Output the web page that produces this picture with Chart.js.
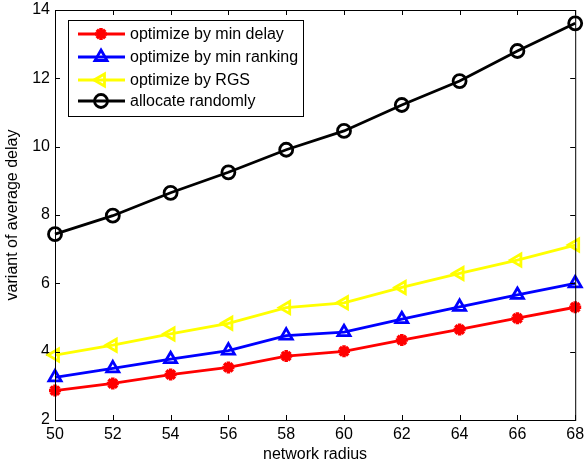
<!DOCTYPE html>
<html>
<head>
<meta charset="utf-8">
<script src="https://cdn.jsdelivr.net/npm/chart.js@4.4.1/dist/chart.umd.min.js"></script>
<style>
  html, body { margin: 0; padding: 0; background: #fff; }
  #wrap { width: 585px; height: 465px; }
</style>
</head>
<body>
<div id="wrap"><canvas id="c" width="585" height="465"></canvas></div>
<script>
// network radius on x, variant of average delay on y
const radius = [50, 52, 54, 56, 58, 60, 62, 64, 66, 68];
const minDelay   = [2.86, 3.07, 3.33, 3.54, 3.87, 4.01, 4.34, 4.65, 4.98, 5.30];
const minRanking = [3.25, 3.51, 3.78, 4.03, 4.47, 4.57, 4.95, 5.31, 5.66, 6.00];
const rgs        = [3.90, 4.19, 4.52, 4.83, 5.29, 5.43, 5.88, 6.29, 6.68, 7.12];
const randomly   = [7.44, 7.98, 8.65, 9.25, 9.91, 10.46, 11.22, 11.92, 12.80, 13.61];
const xTicks = [50, 52, 54, 56, 58, 60, 62, 64, 66, 68];
const yTicks = [2, 4, 6, 8, 10, 12, 14];

const FONT = "Liberation Sans, Arial, sans-serif";

const series = [
  { label: "optimize by min delay",   data: minDelay,   color: "#ff0000", style: "star",     rot: 0,   r: 6,   bw: 3.5 },
  { label: "optimize by min ranking", data: minRanking, color: "#0000ff", style: "triangle", rot: 0,   r: 7,   bw: 2.8 },
  { label: "optimize by RGS",         data: rgs,        color: "#ffff00", style: "triangle", rot: -90, r: 7,   bw: 2.8 },
  { label: "allocate randomly",       data: randomly,   color: "#000000", style: "circle",   rot: 0,   r: 6.5, bw: 2.8 }
];

const datasets = series.map(s => ({
  label: s.label,
  data: radius.map((x, i) => ({ x: x, y: s.data[i] })),
  borderColor: s.color,
  backgroundColor: s.color,
  borderWidth: 2.8,
  pointStyle: s.style,
  rotation: s.rot,
  pointRadius: s.r,
  pointBorderWidth: s.bw,
  pointBackgroundColor: "rgba(0,0,0,0)",
  pointBorderColor: s.color,
  tension: 0,
  clip: false
}));

// box, inward ticks and legend drawn the matlab way
const matlabFrame = {
  id: "matlabFrame",
  afterDraw(chart) {
    const ctx = chart.ctx;
    const a = chart.chartArea;
    const xs = chart.scales.x, ys = chart.scales.y;
    ctx.save();
    ctx.strokeStyle = "#000";
    ctx.lineWidth = 1;
    ctx.strokeRect(a.left + 0.5, a.top + 0.5, a.right - a.left, a.bottom - a.top);
    ctx.beginPath();
    xTicks.forEach(v => {
      const px = Math.round(xs.getPixelForValue(v)) + 0.5;
      ctx.moveTo(px, a.bottom); ctx.lineTo(px, a.bottom - 5);
      ctx.moveTo(px, a.top); ctx.lineTo(px, a.top + 5);
    });
    yTicks.forEach(v => {
      const py = Math.round(ys.getPixelForValue(v)) + 0.5;
      ctx.moveTo(a.left, py); ctx.lineTo(a.left + 5, py);
      ctx.moveTo(a.right, py); ctx.lineTo(a.right - 5, py);
    });
    ctx.stroke();

    // legend
    const lx = 68, ly = 20, lw = 235, lh = 96;
    ctx.fillStyle = "#fff";
    ctx.fillRect(lx, ly, lw, lh);
    ctx.strokeRect(lx + 0.5, ly + 0.5, lw, lh);
    const rows = [34, 57, 80, 101];
    ctx.font = "16px " + FONT;
    ctx.textBaseline = "middle";
    series.forEach((s, i) => {
      const y = rows[i];
      ctx.strokeStyle = s.color;
      ctx.lineWidth = 2.8;
      ctx.beginPath();
      ctx.moveTo(78, y); ctx.lineTo(125, y);
      ctx.stroke();
      ctx.fillStyle = "rgba(0,0,0,0)";
      ctx.lineWidth = s.bw;
      Chart.helpers.drawPoint(ctx, {
        pointStyle: s.style, rotation: s.rot, radius: s.r, borderWidth: s.bw
      }, 101, y);
      ctx.fillStyle = "#000";
      ctx.fillText(s.label, 130, y + 1);
    });
    ctx.restore();
  }
};

new Chart(document.getElementById("c"), {
  type: "line",
  data: { datasets: datasets },
  options: {
    responsive: false,
    animation: false,
    layout: { padding: { top: 10, right: 8, left: 0, bottom: 0 } },
    plugins: { legend: { display: false }, tooltip: { enabled: false } },
    scales: {
      x: {
        type: "linear", min: 50, max: 68,
        afterBuildTicks: s => { s.ticks = xTicks.map(v => ({ value: v })); },
        afterFit: s => { s.height = 45; s.paddingLeft = 0; s.paddingRight = 0; },
        grid: { display: false, drawTicks: false },
        border: { display: false },
        ticks: { color: "#000", font: { family: FONT, size: 16 }, padding: 5 },
        title: { display: true, text: "network radius", color: "#000",
                 font: { family: FONT, size: 16 }, padding: { top: 0, bottom: 1 } }
      },
      y: {
        type: "linear", min: 2, max: 14,
        afterBuildTicks: s => { s.ticks = yTicks.map(v => ({ value: v })); },
        afterFit: s => { s.width = 55; s.paddingTop = 0; s.paddingBottom = 0; },
        grid: { display: false, drawTicks: false },
        border: { display: false },
        ticks: { color: "#000", font: { family: FONT, size: 16 }, padding: 5 },
        title: { display: true, text: "variant of average delay", color: "#000",
                 font: { family: FONT, size: 16 }, padding: { top: 3, bottom: 2 } }
      }
    }
  },
  plugins: [matlabFrame]
});
</script>
</body>
</html>
